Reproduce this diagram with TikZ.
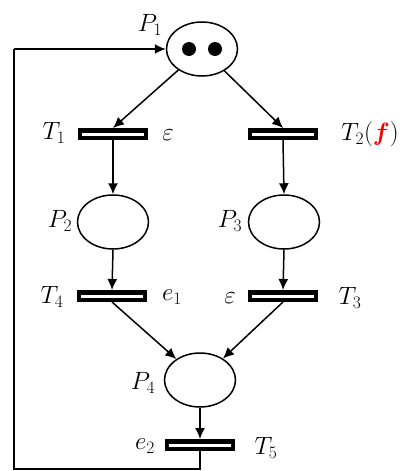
\documentclass[tikz,border=0pt]{standalone}
\usepackage{fix-cm}
\usepackage{bm}
\usetikzlibrary{shapes.geometric,arrows.meta}
\begin{document}
\begin{tikzpicture}[x=1pt,y=-1pt,
  place/.style={draw,ellipse,line width=1.5pt,minimum width=71pt,minimum height=54pt,inner sep=0pt},
  trans/.style={draw,line width=4.5pt,fill=white,minimum width=66pt,minimum height=7.5pt,inner sep=0pt},
  tok/.style={circle,fill=black,minimum size=14pt,inner sep=0pt},
  labtext/.style={inner sep=0pt,font=\fontsize{25}{30}\selectfont},
  arc/.style={line width=1.5pt,-{Latex[length=11pt,width=10pt]}},
  plain/.style={line width=1.7pt}]
\useasboundingbox (0,0) rectangle (413,471);
% places
\node[place] (P1) at (202,49) {};
\node[tok] (k1) at (189,49) {};
\node[tok] (k2) at (215,49) {};
\node[place] (P2) at (113,222) {};
\node[place] (P3) at (284,222) {};
\node[place] (P4) at (200,380) {};
% transitions
\node[trans] (T1) at (113,134) {};
\node[trans] (T2) at (283,134) {};
\node[trans] (T4) at (112,296) {};
\node[trans] (T3) at (283,296) {};
\node[trans] (T5) at (200,445) {};
% labels
\node[labtext] (lP1) at (150,25) {$P_1$};
\node[labtext] (lT1) at (54,133) {$T_1$};
\node[labtext] (lE1) at (168,135) {$\varepsilon$};
\node[labtext] (lT2) at (370,134) {$T_2(\textcolor{red}{\bm{f}})$};
\node[labtext] (lP2) at (60,221) {$P_2$};
\node[labtext] (lP3) at (230,221) {$P_3$};
\node[labtext] (lT4) at (52,297) {$T_4$};
\node[labtext] (le1) at (172,297) {$e_1$};
\node[labtext] (lE2) at (230,298) {$\varepsilon$};
\node[labtext] (lT3) at (350,298) {$T_3$};
\node[labtext] (lP4) at (143,383) {$P_4$};
\node[labtext] (le2) at (145,446) {$e_2$};
\node[labtext] (lT5) at (266,448) {$T_5$};
% arcs
\draw[arc] (P1) -- (T1.north);
\draw[arc] (P1) -- (T2.north);
\draw[arc] (T1.south) -- (P2.north);
\draw[arc] (T2.south) -- (P3.north);
\draw[arc] (P2.south) -- (T4.north);
\draw[arc] (P3.south) -- (T3.north);
\draw[arc] (T4.south) -- (P4);
\draw[arc] (T3.south) -- (P4);
\draw[arc] (P4.south) -- (T5.north);
\coordinate (c1) at (200,469);
\coordinate (c2) at (14,469);
\coordinate (c3) at (14,49);
\draw[plain] (T5.south) -- (c1) -- (c2) -- (c3);
\draw[arc] (c3) -- (P1.west);
\end{tikzpicture}
\end{document}
